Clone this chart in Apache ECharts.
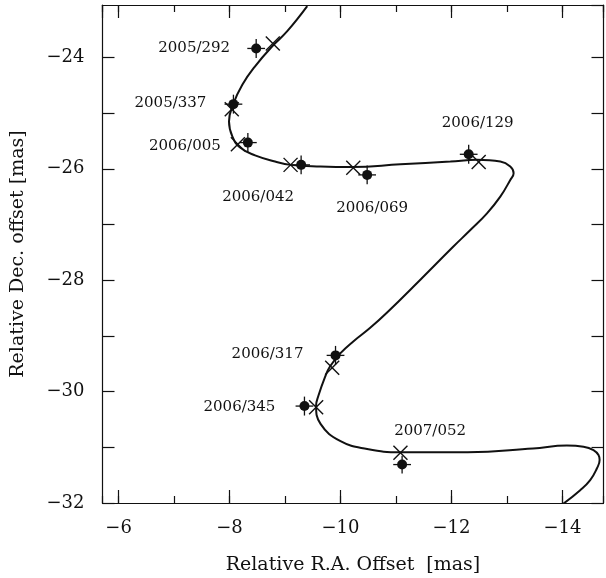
<!DOCTYPE html>
<html>
<head>
<meta charset="utf-8">
<script src="https://cdn.jsdelivr.net/npm/echarts@6/dist/echarts.min.js"></script>
<style>
  html, body { margin: 0; padding: 0; background: #fff; }
  #main { width: 606px; height: 578px; }
</style>
</head>
<body>
<div id="main"></div>
<script>
// model track (parallax + proper motion)
const trackRA = [-9.40, -9.04, -8.77, -8.46, -8.23, -8.07, -7.99, -8.05, -8.19, -8.46,
  -8.82, -9.10, -9.64, -10.21, -11.08, -11.98, -12.46, -12.88, -13.06, -13.12,
  -13.06, -12.88, -12.64, -12.34, -12.03, -11.43, -10.83, -10.53, -10.23, -10.00,
  -9.81, -9.72, -9.60, -9.56, -9.64, -10.00, -10.48, -11.08, -12.29, -13.47,
  -14.08, -14.38, -14.56, -14.65, -14.67, -14.62, -14.50, -14.32, -14.02];
const trackDec = [-23.08, -23.53, -23.80, -24.16, -24.49, -24.83, -25.15, -25.42, -25.62, -25.76,
  -25.87, -25.93, -25.96, -25.97, -25.92, -25.87, -25.84, -25.87, -25.96, -26.08,
  -26.20, -26.50, -26.80, -27.10, -27.40, -28.00, -28.59, -28.86, -29.10, -29.31,
  -29.55, -29.74, -30.08, -30.25, -30.58, -30.89, -31.03, -31.09, -31.09, -31.02,
  -30.97, -30.99, -31.05, -31.14, -31.23, -31.38, -31.59, -31.77, -32.01];

// observation epochs
const epochs = ['2005/292', '2005/337', '2006/005', '2006/042', '2006/069',
  '2006/129', '2006/317', '2006/345', '2007/052'];
const obsRA = [-8.48, -8.07, -8.33, -9.29, -10.48, -12.31, -9.91, -9.35, -11.11];
const obsDec = [-23.84, -24.84, -25.53, -25.93, -26.11, -25.74, -29.35, -30.26, -31.31];
const obsErrRA = [0.16, 0.16, 0.16, 0.16, 0.16, 0.16, 0.16, 0.16, 0.16];
const obsErrDec = [0.17, 0.17, 0.17, 0.17, 0.17, 0.17, 0.17, 0.17, 0.16];
// model positions at the same epochs
const predRA = [-8.78, -8.04, -8.15, -9.10, -10.23, -12.49, -9.85, -9.56, -11.08];
const predDec = [-23.75, -24.93, -25.56, -25.93, -25.98, -25.88, -29.57, -30.28, -31.10];

const xLabels = [-6, -8, -10, -12, -14];
const yLabels = [-24, -26, -28, -30, -32];

// label placement (pixel offsets from the point)
const labelOffsets = [[-62, 0], [-63, -1], [-63, 4], [-43, 32], [5, 33],
  [9, -31], [-68, -1], [-65, 1], [28, -33]];

const FONT = 'DejaVu Serif';
const INK = '#111';
const X_MIN = -14.74, X_MAX = -5.71;
const Y_MIN = -32, Y_MAX = -23.06;

function fmt(list) {
  return function (v) {
    const r = Math.round(v);
    if (Math.abs(v - r) > 1e-6 || list.indexOf(r) < 0) return '';
    return r < 0 ? '\u2212' + Math.abs(r) : String(r);
  };
}

function xAxisOf(pos, step, tickLen, withLabels) {
  return {
    type: 'value', position: pos, min: X_MIN, max: X_MAX, inverse: true,
    minInterval: step, maxInterval: step,
    axisLine: { show: true, onZero: false, lineStyle: { color: INK, width: 1.2 } },
    axisTick: { show: true, inside: true, length: tickLen, lineStyle: { color: INK, width: 1.2 } },
    axisLabel: {
      show: withLabels, formatter: fmt(xLabels), margin: 16,
      fontSize: 18, fontFamily: FONT, color: INK,
      showMinLabel: false, showMaxLabel: false
    },
    splitLine: { show: false },
    name: withLabels ? 'Relative R.A. Offset  [mas]' : '',
    nameLocation: 'middle', nameGap: 53,
    nameTextStyle: { fontSize: 19, fontFamily: FONT, color: INK }
  };
}

function yAxisOf(pos, withLabels) {
  return {
    type: 'value', position: pos, min: Y_MIN, max: Y_MAX,
    minInterval: 1, maxInterval: 1,
    axisLine: { show: true, onZero: false, lineStyle: { color: INK, width: 1.2 } },
    axisTick: { show: true, inside: true, length: 12, lineStyle: { color: INK, width: 1.2 } },
    axisLabel: {
      show: withLabels, formatter: fmt(yLabels), margin: 18,
      fontSize: 18, fontFamily: FONT, color: INK,
      showMinLabel: true, showMaxLabel: false
    },
    splitLine: { show: false },
    name: withLabels ? 'Relative Dec. offset [mas]' : '',
    nameLocation: 'middle', nameGap: 75, nameRotate: 90,
    nameTextStyle: { fontSize: 19, fontFamily: FONT, color: INK }
  };
}

const chart = echarts.init(document.getElementById('main'), null, { renderer: 'canvas' });

chart.setOption({
  animation: false,
  backgroundColor: '#fff',
  grid: { left: 102.5, right: 2.5, top: 5, bottom: 75, containLabel: false, outerBoundsMode: 'none' },
  xAxis: [
    xAxisOf('bottom', 2, 13, true),
    xAxisOf('top', 2, 13, false),
    xAxisOf('bottom', 1, 7, false),
    xAxisOf('top', 1, 7, false)
  ],
  yAxis: [yAxisOf('left', true), yAxisOf('right', false)],
  series: [
    {
      // model track
      type: 'line',
      data: trackRA.map((x, i) => [x, trackDec[i]]),
      showSymbol: false,
      smooth: 0.45,
      clip: true,
      lineStyle: { color: INK, width: 2 },
      z: 2
    },
    {
      // model positions (crosses)
      type: 'custom',
      data: predRA.map((x, i) => [x, predDec[i]]),
      renderItem: function (params, api) {
        const c = api.coord([api.value(0), api.value(1)]);
        const s = 7;
        const st = { stroke: INK, lineWidth: 1.4 };
        return {
          type: 'group',
          children: [
            { type: 'line', shape: { x1: c[0] - s, y1: c[1] - s, x2: c[0] + s, y2: c[1] + s }, style: st },
            { type: 'line', shape: { x1: c[0] - s, y1: c[1] + s, x2: c[0] + s, y2: c[1] - s }, style: st }
          ]
        };
      },
      z: 3
    },
    {
      // error bars
      type: 'custom',
      data: obsRA.map((x, i) => [x, obsDec[i], obsErrRA[i], obsErrDec[i]]),
      renderItem: function (params, api) {
        const x = api.value(0), y = api.value(1), ex = api.value(2), ey = api.value(3);
        const a = api.coord([x - ex, y]), b = api.coord([x + ex, y]);
        const c = api.coord([x, y - ey]), d = api.coord([x, y + ey]);
        const st = { stroke: INK, lineWidth: 1.3 };
        return {
          type: 'group',
          children: [
            { type: 'line', shape: { x1: a[0], y1: a[1], x2: b[0], y2: b[1] }, style: st },
            { type: 'line', shape: { x1: c[0], y1: c[1], x2: d[0], y2: d[1] }, style: st }
          ]
        };
      },
      z: 4
    },
    {
      // observed positions
      type: 'scatter',
      symbol: 'circle',
      symbolSize: 10,
      itemStyle: { color: INK, opacity: 1 },
      data: obsRA.map((x, i) => ({
        value: [x, obsDec[i]],
        name: epochs[i],
        label: { offset: labelOffsets[i] }
      })),
      label: {
        show: true, position: 'inside', formatter: '{b}',
        fontSize: 15, fontFamily: FONT, color: INK
      },
      z: 5
    }
  ]
});
</script>
</body>
</html>
